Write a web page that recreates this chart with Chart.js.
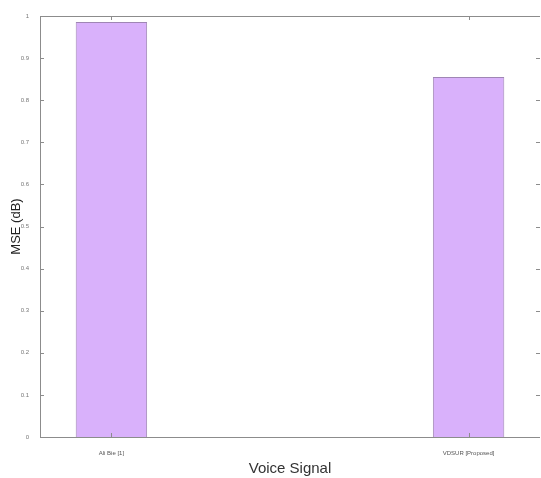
<!DOCTYPE html>
<html><head><meta charset="utf-8">
<script src="https://cdn.jsdelivr.net/npm/chart.js@4/dist/chart.umd.min.js"></script>
<style>html,body{margin:0;padding:0;background:#fff}#wrap{width:541px;height:478px}</style>
</head><body><div id="wrap"><canvas id="c" width="541" height="478"></canvas></div>
<script>
const categories = ["Ali Bie [1]", "VDSUR [Proposed]"];
const positions = [1, 2];
const mseValues = [0.986, 0.855];
const yTicks = [0, 0.1, 0.2, 0.3, 0.4, 0.5, 0.6, 0.7, 0.8, 0.9, 1];

const axisColor = '#8c8c8c';
const inwardTicks = {
  id: 'inwardTicks',
  afterDraw(chart) {
    const ctx = chart.ctx, a = chart.chartArea;
    const x = chart.scales.x, y = chart.scales.y;
    ctx.save();
    ctx.strokeStyle = axisColor; ctx.lineWidth = 1;
    ctx.beginPath();
    ctx.moveTo(a.left + 0.5, a.bottom + 0.5); ctx.lineTo(a.left + 0.5, a.top + 0.5); ctx.lineTo(a.right, a.top + 0.5);
    ctx.moveTo(a.left, a.bottom + 0.5); ctx.lineTo(a.right, a.bottom + 0.5);
    ctx.stroke();
    ctx.beginPath();
    yTicks.forEach(v => {
      const py = Math.round(y.getPixelForValue(v)) + 0.5;
      ctx.moveTo(a.left, py); ctx.lineTo(a.left + 4, py);
      ctx.moveTo(a.right, py); ctx.lineTo(a.right - 4, py);
    });
    positions.forEach(v => {
      const px = Math.round(x.getPixelForValue(v)) + 0.5;
      ctx.moveTo(px, a.top); ctx.lineTo(px, a.top + 4);
      ctx.moveTo(px, a.bottom); ctx.lineTo(px, a.bottom - 4);
    });
    ctx.stroke();
    ctx.restore();
  }
};

new Chart(document.getElementById('c'), {
  type: 'bar',
  data: {
    datasets: [{
      data: positions.map((p, i) => ({x: p, y: mseValues[i]})),
      backgroundColor: '#d9b1fb',
      borderColor: '#9f86b4',
      borderWidth: 1,
      barPercentage: 0.2,
      categoryPercentage: 1
    }]
  },
  options: {
    responsive: false,
    animation: false,
    layout: {padding: {top: 16, right: 1, left: 0, bottom: 0}},
    plugins: {legend: {display: false}, tooltip: {enabled: false}},
    scales: {
      x: {
        type: 'linear', min: 0.8, max: 2.2, offset: false,
        afterBuildTicks(s) { s.ticks = positions.map(v => ({value: v})); },
        afterFit(s) { s.height = 41; },
        grid: {display: false, offset: false},
        border: {display: false},
        ticks: {
          callback: (v) => categories[positions.indexOf(v)] || '',
          font: {family: 'Liberation Sans Narrow, Liberation Sans, Arial', size: 6},
          color: '#555', padding: 5, maxRotation: 0, autoSkip: false
        },
        title: {display: true, text: 'Voice Signal', color: '#333',
          font: {family: 'Liberation Sans Narrow, Liberation Sans, Arial', size: 15},
          padding: {top: 4, bottom: 0}}
      },
      y: {
        min: 0, max: 1,
        afterBuildTicks(s) { s.ticks = yTicks.map(v => ({value: v})); },
        afterFit(s) { s.width = 40; },
        grid: {display: false},
        border: {display: false},
        ticks: {
          callback: (v) => String(v),
          font: {family: 'Liberation Sans Narrow, Liberation Sans, Arial', size: 6},
          color: '#777', padding: 3
        },
        title: {display: true, text: 'MSE (dB)', color: '#222',
          font: {family: 'Liberation Sans, Arial', size: 13},
          padding: {top: 9, bottom: 0}}
      }
    }
  },
  plugins: [inwardTicks]
});
</script></body></html>
